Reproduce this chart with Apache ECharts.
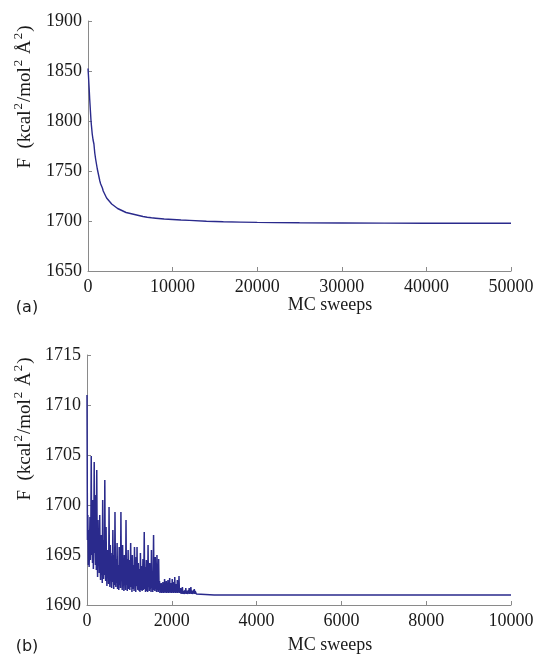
<!DOCTYPE html>
<html>
<head>
<meta charset="utf-8">
<script src="https://cdn.jsdelivr.net/npm/echarts@6/dist/echarts.min.js"></script>
<style>
html,body{margin:0;padding:0;background:#fff;}
#c{width:540px;height:655px;}
</style>
</head>
<body>
<div id="c"></div>
<script>
// ---------- Panel (a) ----------
const sweepsA = [0,50,100,150,200,250,300,350,400,500,600,700,800,900,1000,1100,1250,1400,1500,1600,1700,1800,2000,2200,2500,2800,3000,3500,4000,4500,5000,5500,6000,6500,7000,7500,8000,9000,10000,11000,12000,14000,16000,18000,20000,22000,25000,30000,35000,40000,45000,50000];
const fA = [1852.5,1846,1838,1830.5,1822,1815,1808,1801,1796,1787,1781,1777,1768,1762,1757,1752,1746,1740,1737,1736.5,1733,1730,1728,1723,1720,1717,1715.5,1712.5,1710.5,1708.5,1707.5,1706.5,1705.5,1704.5,1703.8,1703.2,1702.8,1702,1701.5,1701,1700.6,1699.8,1699.2,1698.9,1698.6,1698.4,1698.2,1698,1697.9,1697.8,1697.7,1697.7];
const xTicksA = [0,10000,20000,30000,40000,50000];
const yTicksA = [1650,1700,1750,1800,1850,1900];

// ---------- Panel (b) ----------
const sweepStepB = 10; // sampling interval of the noisy early section (MC sweeps)
const fNoisyB = [
 1711.0,1696.5,1699.0,1694.0,1697.5,1693.8,1696.0,1698.8,1694.5,1697.0,
 1704.9,1695.0,1698.0,1694.2,1700.5,1693.6,1696.8,1704.3,1695.2,1697.5,
 1694.0,1701.0,1693.5,1703.5,1695.5,1692.8,1698.5,1694.0,1696.5,1693.2,
 1699.0,1694.5,1692.5,1697.0,1693.0,1695.8,1692.2,1700.5,1694.0,1692.6,
 1696.5,1693.0,1702.5,1694.2,1692.4,1697.8,1693.5,1691.9,1695.5,1692.8,
 1694.8,1692.1,1699.8,1693.2,1691.8,1696.0,1692.5,1694.5,1691.7,1695.2,
 1692.3,1697.5,1693.0,1691.6,1695.0,1692.0,1699.3,1693.4,1691.8,1694.6,
 1692.2,1696.2,1691.6,1694.0,1692.5,1691.5,1695.8,1692.0,1693.8,1691.7,
 1699.3,1692.4,1694.2,1691.5,1696.0,1692.1,1693.5,1691.4,1695.0,1692.3,
 1693.8,1691.5,1698.5,1692.0,1694.6,1691.4,1693.0,1695.5,1691.6,1692.8,
 1694.5,1691.5,1692.9,1696.2,1691.8,1693.5,1691.3,1695.0,1692.2,1691.6,
 1694.0,1691.4,1695.8,1692.0,1693.2,1691.3,1694.8,1691.9,1695.8,1692.1,
 1691.5,1694.2,1692.0,1691.4,1693.6,1691.3,1695.2,1692.3,1691.5,1693.9,
 1691.4,1692.8,1694.6,1691.5,1692.2,1697.3,1691.6,1693.8,1691.3,1692.5,
 1694.5,1691.4,1692.9,1691.3,1696.0,1691.8,1693.2,1691.4,1694.2,1691.6,
 1692.6,1691.3,1695.5,1691.7,1693.4,1691.3,1692.5,1697.0,1691.5,1693.6,
 1691.4,1694.8,1691.6,1692.8,1691.3,1695.0,1691.5,1693.3,1691.3,1694.6,
 1691.5,1692.4,1691.2,1692.0,1691.3,1692.2,1691.2,1691.9,1691.3,1692.3,
 1691.2,1692.0,1691.3,1692.6,1691.2,1691.8,1691.3,1692.4,1691.2,1691.9,
 1691.3,1692.5,1691.2,1691.8,1691.3,1692.7,1691.2,1691.9,1691.3,1692.2,
 1691.2,1692.6,1691.3,1691.8,1691.2,1692.3,1691.3,1692.8,1691.2,1691.7,
 1691.3,1692.1,1691.2,1692.5,1691.2,1691.8,1691.3,1692.9,1691.2,1691.6,
 1691.2,1691.7,1691.1,1691.5,1691.2,1691.8,1691.1,1691.4,1691.2,1691.6,
 1691.1,1691.5,1691.2,1691.7,1691.1,1691.4,1691.2,1691.6,1691.1,1691.5,
 1691.2,1691.7,1691.1,1691.5,1691.2,1691.8,1691.1,1691.4,1691.2,1691.6,
 1691.1,1691.5,1691.2,1691.6,1691.1,1691.4,1691.2,1691.5,1691.1,1691.3
];
const sweepsTailB = [2600,3000,4000,5000,6000,7000,8000,9000,10000];
const fTailB = [1691.0,1691.0,1691.0,1691.0,1691.0,1691.0,1691.0,1691.0,1691.0];
const xTicksB = [0,2000,4000,6000,8000,10000];
const yTicksB = [1690,1695,1700,1705,1710,1715];

// ---------- build ----------
const dataA = sweepsA.map((s,i)=>[s,fA[i]]);
const dataB = fNoisyB.map((v,i)=>[i*sweepStepB,v]).concat(sweepsTailB.map((s,i)=>[s,fTailB[i]]));

const serif = 'Liberation Serif';
const axisCol = '#8a8a8a';
const lineCol = '#2a2a8c';

function labelStyle(margin){
  return {show:true,color:'#1a1a1a',fontFamily:serif,fontSize:18,fontWeight:'normal',margin:margin,
          formatter:function(v){return '{t|'+v+'}';},
          rich:{t:{fontFamily:serif,fontSize:18,color:'#1a1a1a'}}};
}
function xAxis(idx, ticks){
  return {
    type:'value', gridIndex:idx, min:ticks[0], max:ticks[ticks.length-1], interval:ticks[1]-ticks[0],
    axisLine:{show:true,onZero:false,lineStyle:{color:axisCol,width:1}},
    axisTick:{show:true,inside:true,length:4,lineStyle:{color:axisCol}},
    axisLabel:labelStyle(7),
    splitLine:{show:false}
  };
}
function yAxis(idx, ticks){
  return {
    type:'value', gridIndex:idx, min:ticks[0], max:ticks[ticks.length-1], interval:ticks[1]-ticks[0],
    axisLine:{show:true,onZero:false,lineStyle:{color:axisCol,width:1}},
    axisTick:{show:true,inside:true,length:4,lineStyle:{color:axisCol}},
    axisLabel:labelStyle(6),
    splitLine:{show:false}
  };
}
function yTitle(cx, cy){
  return {
    type:'text', x:cx, y:cy, rotation:Math.PI/2,
    style:{
      text:'{n|F  (kcal}{s|2}{n|/mol}{s|2}{n| Å}{s|2}{n|)}',
      align:'center', verticalAlign:'middle',
      rich:{
        n:{fontFamily:serif,fontSize:19,fill:'#1a1a1a'},
        s:{fontFamily:serif,fontSize:13,fill:'#1a1a1a',padding:[0,1,12,1]}
      }
    }
  };
}
function plainText(txt, cx, cy, font, size){
  return {type:'text', x:cx, y:cy, style:{text:txt, fontFamily:font, fontSize:size, fill:'#1a1a1a', align:'center', verticalAlign:'middle'}};
}

const chart = echarts.init(document.getElementById('c'), null, {renderer:'canvas'});
chart.setOption({
  animation:false,
  backgroundColor:'#ffffff',
  textStyle:{fontFamily:serif},
  grid:[
    {left:88, right:29, top:21, height:250},
    {left:87, right:29, top:355, height:250}
  ],
  xAxis:[xAxis(0,xTicksA), xAxis(1,xTicksB)],
  yAxis:[yAxis(0,yTicksA), yAxis(1,yTicksB)],
  series:[
    {type:'line', xAxisIndex:0, yAxisIndex:0, data:dataA, showSymbol:false, smooth:false,
     lineStyle:{color:lineCol,width:1.4}},
    {type:'line', xAxisIndex:1, yAxisIndex:1, data:dataB, showSymbol:false, smooth:false, sampling:null,
     lineStyle:{color:lineCol,width:1.5}}
  ],
  graphic:[
    yTitle(25, 97),
    yTitle(25, 429),
    plainText('MC sweeps', 330, 305, serif, 18),
    plainText('MC sweeps', 330, 645, serif, 18),
    plainText('(a)', 27, 308, 'DejaVu Sans', 16),
    plainText('(b)', 27, 647, 'DejaVu Sans', 16)
  ]
});
</script>
</body>
</html>
